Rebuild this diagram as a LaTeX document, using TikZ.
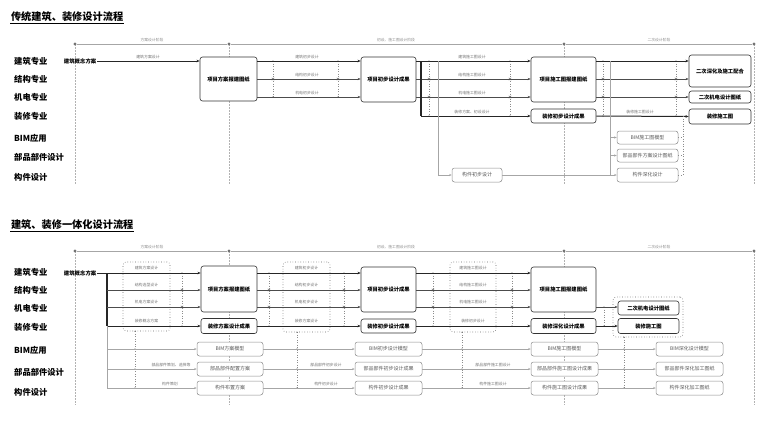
\documentclass[tikz,border=0pt]{standalone}
\usepackage{fontspec}
\setmainfont{Noto Sans CJK SC}
\usetikzlibrary{arrows.meta,shapes.misc}
\begin{document}
\begin{tikzpicture}[x=1pt,y=-1pt,
 mainbox/.style={draw=black!80, line width=0.6pt, rounded corners=2.5pt, fill=white, font=\fontsize{5.3}{6}\selectfont\bfseries, inner sep=0pt},
 graybox/.style={draw=black!45, line width=0.5pt, rounded corners=2.5pt, fill=white, text=black!65, font=\fontsize{5}{6}\selectfont, inner sep=0pt},
 dbox/.style={draw=black!60, dotted, line width=0.6pt, rounded corners=3pt, inner sep=0pt},
 flow/.style={draw=black!70, line width=0.6pt, -{Stealth[length=3pt,width=2.2pt]}},
 flowthick/.style={draw=black!85, line width=1pt, -{Stealth[length=3.2pt,width=2.6pt]}},
 bar/.style={draw=black!85, line width=1.1pt},
 grayline/.style={draw=black!35, line width=0.5pt},
 grayflow/.style={draw=black!35, line width=0.5pt, -{Stealth[length=2.5pt,width=2pt]}},
 dotv/.style={draw=black!45, dotted, line width=0.5pt},
 xm/.style={cross out, draw=black!55, minimum size=2pt, inner sep=0pt, line width=0.4pt},
 dm/.style={circle, fill=black!60, minimum size=1.3pt, inner sep=0pt},
 stage/.style={draw=black!35, line width=0.5pt},
 sdot/.style={circle, fill=black!55, minimum size=3.2pt, inner sep=0pt},
 vdash/.style={draw=black!30, dash pattern=on 1.5pt off 1.5pt, line width=0.4pt},
 elab/.style={font=\fontsize{3.9}{4}\selectfont, text=black!55, inner sep=0.5pt},
 slab/.style={font=\fontsize{3.8}{4}\selectfont, text=black!45, inner sep=0.5pt},
 rowlab/.style={font=\fontsize{8.3}{9}\selectfont\bfseries, anchor=west, inner sep=0pt},
 conc/.style={font=\fontsize{5.4}{6}\selectfont\bfseries, anchor=east, inner sep=0.5pt},
 ttl/.style={font=\fontsize{10.2}{11}\selectfont\bfseries, anchor=west, inner sep=0.8pt}
]
\useasboundingbox (0,0) rectangle (760,424);

%%%%%%%%%%%%%%%% TOP DIAGRAM %%%%%%%%%%%%%%%%
\node[ttl] (t1) at (10,17) {传统建筑、装修设计流程};
\draw[line width=0.7pt] (t1.south west) -- (t1.south east);

\foreach \x in {75,229,564,754} \draw[vdash] (\x,44) -- (\x,185);
\node[sdot] (sa1) at (75,44) {};
\node[sdot] (sa2) at (229,44) {};
\node[sdot] (sa3) at (564,44) {};
\node[sdot] (sa4) at (754,44) {};
\draw[stage] (sa1) -- (sa2) -- (sa3) -- (sa4);
\node[slab] at (152,40) {方案设计阶段};
\node[slab] at (396,40) {初设、施工图设计阶段};
\node[slab] at (659,40) {二次设计阶段};

\node[rowlab] at (14,61) {建筑专业};
\node[rowlab] at (14,79) {结构专业};
\node[rowlab] at (14,97) {机电专业};
\node[rowlab] at (14,116) {装修专业};
\node[rowlab] at (14,138) {BIM应用};
\node[rowlab] at (14,157) {部品部件设计};
\node[rowlab] at (14,177) {构件设计};

\node[conc] (c0) at (97,61) {建筑概念方案};

% dotted connectors (drawn before boxes)
\foreach \x in {273,338} {
  \draw[dotv] (\x,61) -- (\x,97);
  \node[dm] at (\x,61) {}; \node[xm] at (\x,79) {}; \node[dm] at (\x,97) {};
}
\foreach \x in {429,510,603,676} {
  \draw[dotv] (\x,61) -- (\x,116);
  \node[dm] at (\x,61) {}; \node[xm] at (\x,79) {}; \node[xm] at (\x,97) {}; \node[dm] at (\x,116) {};
}

\node[mainbox, minimum width=57, minimum height=44] (b1) at (228.5,79) {项目方案报建图纸};
\node[mainbox, minimum width=55, minimum height=45] (b2) at (388.5,79.5) {项目初步设计成果};
\node[mainbox, minimum width=65, minimum height=45] (b3) at (563.5,79.5) {项目施工图报建图纸};
\node[mainbox, minimum width=65, minimum height=14] (z2) at (563.5,116) {装修初步设计成果};
\node[mainbox, minimum width=62, minimum height=32] (r1) at (720,71) {二次深化及施工配合};
\node[mainbox, minimum width=62, minimum height=12] (r2) at (720,97) {二次机电设计图纸};
\node[mainbox, minimum width=62, minimum height=15] (r3) at (720,116.5) {装修施工图};

\node[graybox, minimum width=50, minimum height=14] (g1) at (477,175) {构件初步设计};
\node[graybox, minimum width=61, minimum height=13] (g2) at (647.5,137.5) {BIM施工图模型};
\node[graybox, minimum width=61, minimum height=13] (g3) at (647.5,155.5) {部品部件方案设计图纸};
\node[graybox, minimum width=61, minimum height=14] (g4) at (647.5,175) {构件深化设计};

\draw[flowthick] (c0.east) -- (b1.west|-c0.east);
\node[elab] at (148,57) {建筑方案设计};

\draw[flowthick] (b1.east|-0,61) -- (b2.west|-0,61);
\draw[flow] (b1.east|-0,79) -- (b2.west|-0,79);
\draw[flow] (b1.east|-0,97) -- (b2.west|-0,97);
\node[elab] at (307,57) {建筑初步设计};
\node[elab] at (307,75) {结构初步设计};
\node[elab] at (307,93) {机电初步设计};

\draw[flowthick] (b2.east|-0,61) -- (b3.west|-0,61);
\draw[flow] (b2.east|-0,79) -- (b3.west|-0,79);
\draw[flow] (b2.east|-0,97) -- (b3.west|-0,97);
\draw[bar] (421,61) -- (421,116);
\draw[flowthick] (421,116) -- (z2.west);
\node[elab] at (472,57) {建筑施工图设计};
\node[elab] at (472,75) {结构施工图设计};
\node[elab] at (472,93) {机电施工图设计};
\node[elab] at (472,112) {装修方案、初设设计};
\draw[grayline] (438,61) -- (438,175);
\draw[grayflow] (438,175) -- (g1.west);

\draw[flowthick] (b3.east|-0,61) -- (r1.west|-0,61);
\draw[flow] (b3.east|-0,79) -- (r1.west|-0,79);
\draw[flow] (b3.east|-0,97) -- (r2.west|-0,97);
\draw[flowthick] (z2.east) -- (r3.west);
\node[elab] at (640,112) {装修施工图设计};

\draw[grayline] (610,61) -- (610,175);
\draw[grayflow] (610,137.5) -- (g2.west);
\draw[grayflow] (610,155.5) -- (g3.west);
\draw[grayflow] (g1.east) -- (g4.west);
\draw[dotv] (683,116) -- (683,175);
\draw[dotv] (g2.east) -- (683,137.5);
\draw[dotv] (g3.east) -- (683,155.5);
\draw[dotv] (g4.east) -- (683,175);

%%%%%%%%%%%%%%%% BOTTOM DIAGRAM %%%%%%%%%%%%%%%%
\node[ttl] (t2) at (10,225) {建筑、装修一体化设计流程};
\draw[line width=0.7pt] (t2.south west) -- (t2.south east);

\foreach \x in {75,229,564,754} \draw[vdash] (\x,251) -- (\x,405);
\node[sdot] (sb1) at (75,251) {};
\node[sdot] (sb2) at (229,251) {};
\node[sdot] (sb3) at (564,251) {};
\node[sdot] (sb4) at (754,251) {};
\draw[stage] (sb1) -- (sb2) -- (sb3) -- (sb4);
\node[slab] at (152,247) {方案设计阶段};
\node[slab] at (396,247) {初设、施工图设计阶段};
\node[slab] at (659,247) {二次设计阶段};

\node[rowlab] at (14,272) {建筑专业};
\node[rowlab] at (14,290) {结构专业};
\node[rowlab] at (14,308) {机电专业};
\node[rowlab] at (14,327) {装修专业};
\node[rowlab] at (14,350) {BIM应用};
\node[rowlab] at (14,372) {部品部件设计};
\node[rowlab] at (14,392) {构件设计};

\node[conc] (c1) at (97,273) {建筑概念方案};

% dashed groups
\node[dbox, minimum width=47, minimum height=69] (d1) at (146.5,296.5) {};
\node[dbox, minimum width=47, minimum height=70] (d2) at (306.5,297) {};
\node[dbox, minimum width=46, minimum height=70] (d3) at (473,297) {};
\node[dbox, minimum width=70, minimum height=40] (d4) at (648,317) {};

% dotted connectors
\foreach \x in {182,269,344,433,512} {
  \draw[dotv] (\x,273) -- (\x,326);
  \node[dm] at (\x,273) {}; \node[xm] at (\x,290) {}; \node[xm] at (\x,307) {}; \node[dm] at (\x,326) {};
}
\draw[dotv] (604,307) -- (604,326);
\node[dm] at (604,307) {}; \node[dm] at (604,326) {};
\foreach \x/\d in {135/d1,297/d2,462/d3,624/d4} {
  \draw[dotv] (\x,0|-\d.south) -- (\x,388);
  \node[dm] at (\x,0|-\d.south) {};
  \node[dm] at (\x,349) {}; \node[dm] at (\x,369) {}; \node[dm] at (\x,388) {};
}

\node[mainbox, minimum width=56, minimum height=46] (B1) at (229,289) {项目方案报建图纸};
\node[mainbox, minimum width=56, minimum height=15] (Z1) at (229,326) {装修方案设计成果};
\node[mainbox, minimum width=55, minimum height=45] (B2) at (388.5,289.5) {项目初步设计成果};
\node[mainbox, minimum width=55, minimum height=14] (Z2) at (388.5,326) {装修初步设计成果};
\node[mainbox, minimum width=65, minimum height=45] (B3) at (563.5,289.5) {项目施工图报建图纸};
\node[mainbox, minimum width=65, minimum height=15] (Z3) at (563.5,326) {装修深化设计成果};
\node[mainbox, minimum width=61, minimum height=14] (R1) at (648.5,308) {二次机电设计图纸};
\node[mainbox, minimum width=61, minimum height=15] (R2) at (648.5,326) {装修施工图};

\node[graybox, minimum width=66, minimum height=14] (G1a) at (230,349) {BIM方案模型};
\node[graybox, minimum width=66, minimum height=14] (G1b) at (230,369) {部品部件配置方案};
\node[graybox, minimum width=66, minimum height=14] (G1c) at (230,388) {构件布置方案};
\node[graybox, minimum width=67, minimum height=14] (G2a) at (388.5,349) {BIM初步设计模型};
\node[graybox, minimum width=67, minimum height=14] (G2b) at (388.5,369) {部品部件初步设计成果};
\node[graybox, minimum width=67, minimum height=14] (G2c) at (388.5,388) {构件初步设计成果};
\node[graybox, minimum width=67, minimum height=14] (G3a) at (564.5,349) {BIM施工图模型};
\node[graybox, minimum width=67, minimum height=14] (G3b) at (564.5,369) {部品部件施工图设计成果};
\node[graybox, minimum width=67, minimum height=14] (G3c) at (564.5,388) {构件施工图设计成果};
\node[graybox, minimum width=67, minimum height=14] (G4a) at (689.5,349) {BIM深化设计模型};
\node[graybox, minimum width=67, minimum height=14] (G4b) at (689.5,369) {部品部件深化加工图纸};
\node[graybox, minimum width=67, minimum height=14] (G4c) at (689.5,388) {构件深化加工图纸};

% stage 1 flows
\draw[flowthick] (c1.east) -- (B1.west|-c1.east);
\draw[bar] (107,273) -- (107,326);
\draw[flow] (107,290) -- (B1.west|-0,290);
\draw[flow] (107,307) -- (B1.west|-0,307);
\draw[flowthick] (107,326) -- (Z1.west);
\draw[grayline] (107,326) -- (107,388);
\draw[grayflow] (107,349) -- (G1a.west);
\draw[grayflow] (107,369) -- (G1b.west);
\draw[grayflow] (107,388) -- (G1c.west);
\node[elab] at (146.5,268) {建筑方案设计};
\node[elab] at (146.5,285) {结构选型设计};
\node[elab] at (146.5,302) {机电方案设计};
\node[elab] at (146.5,321) {装修概念方案};
\node[elab] at (171,365) {部品部件策划、选择等};
\node[elab] at (170,384) {构件策划};

% stage 2 flows
\draw[flowthick] (B1.east|-0,273) -- (B2.west|-0,273);
\draw[flow] (B1.east|-0,290) -- (B2.west|-0,290);
\draw[flow] (B1.east|-0,307) -- (B2.west|-0,307);
\draw[flowthick] (Z1.east) -- (Z2.west);
\draw[grayflow] (G1a.east) -- (G2a.west);
\draw[grayflow] (G1b.east) -- (G2b.west);
\draw[grayflow] (G1c.east) -- (G2c.west);
\node[elab] at (306.5,268) {建筑初步设计};
\node[elab] at (306.5,285) {结构初步设计};
\node[elab] at (306.5,302) {机电初步设计};
\node[elab] at (306.5,321) {装修方案设计};
\node[elab] at (326,365) {部品部件初步设计};
\node[elab] at (326,384) {构件初步设计};

% stage 3 flows
\draw[flowthick] (B2.east|-0,273) -- (B3.west|-0,273);
\draw[flow] (B2.east|-0,290) -- (B3.west|-0,290);
\draw[flow] (B2.east|-0,307) -- (B3.west|-0,307);
\draw[flowthick] (Z2.east) -- (Z3.west);
\draw[grayflow] (G2a.east) -- (G3a.west);
\draw[grayflow] (G2b.east) -- (G3b.west);
\draw[grayflow] (G2c.east) -- (G3c.west);
\node[elab] at (473,268) {建筑施工图设计};
\node[elab] at (473,285) {结构施工图设计};
\node[elab] at (473,302) {机电施工图设计};
\node[elab] at (473,321) {装修初步设计};
\node[elab] at (493,365) {部品部件施工图设计};
\node[elab] at (493,384) {构件施工图设计};

% stage 4 flows
\draw[flow] (B3.east|-0,307) -- (R1.west|-0,307);
\draw[flowthick] (Z3.east) -- (R2.west);
\draw[grayflow] (G3a.east) -- (G4a.west);
\draw[grayflow] (G3b.east) -- (G4b.west);
\draw[grayflow] (G3c.east) -- (G4c.west);
\end{tikzpicture}
\end{document}
